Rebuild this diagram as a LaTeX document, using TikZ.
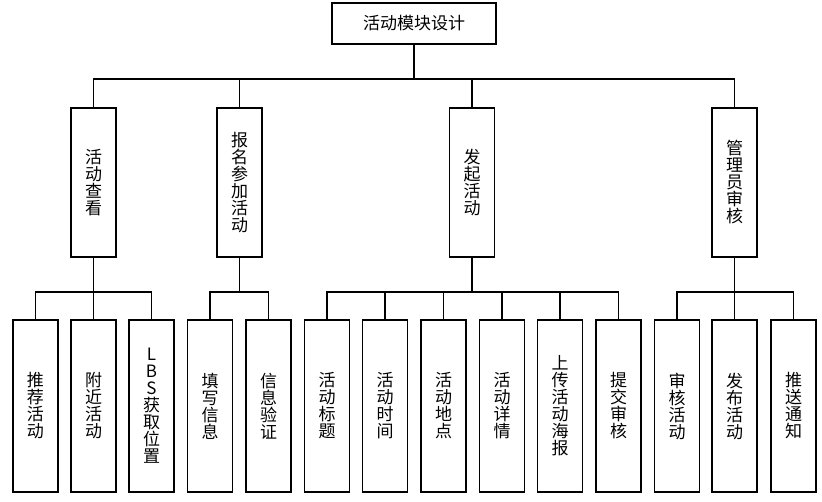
\documentclass[tikz,border=0pt]{standalone}
\usepackage{fontspec}
\setmainfont{Noto Sans CJK SC}
\usepackage{tikz}
\usetikzlibrary{positioning}
\tikzstyle{module}=[rectangle, draw=black, line width=1.4pt, inner sep=0pt,
align=center, font=\fontsize{17}{17}\selectfont]
\tikzstyle{rootbox}=[module, minimum width=164pt, minimum height=41pt]
\tikzstyle{groupbox}=[module, minimum width=45pt, minimum height=149pt]
\tikzstyle{leafbox}=[module, minimum width=45pt, minimum height=172pt]
\tikzstyle{link}=[line width=1.4pt]

\begin{document}
\begin{tikzpicture}[x=1pt, y=-1pt]
            \useasboundingbox (0,0) rectangle (822,502);
            % top
            \node (0)[rootbox] at (414,23.5) {活动模块设计};
            % modules
            \node (1)[groupbox] at (93.5,182.5) {活\\动\\查\\看};
            \node (2)[groupbox] at (239.5,182.5) {报\\名\\参\\加\\活\\动};
            \node (3)[groupbox] at (472,182.5) {发\\起\\活\\动};
            \node (4)[groupbox] at (734.5,182.5) {管\\理\\员\\审\\核};
            % functions
            \node (11)[leafbox] at (35.5,406) {推\\荐\\活\\动};
            \node (12)[leafbox] at (93.5,406) {附\\近\\活\\动};
            \node (13)[leafbox] at (151.5,406) {L\\B\\S\\获\\取\\位\\置};
            \node (21)[leafbox] at (210,406) {填\\写\\信\\息};
            \node (22)[leafbox] at (268.5,406) {信\\息\\验\\证};
            \node (31)[leafbox] at (327,406) {活\\动\\标\\题};
            \node (32)[leafbox] at (385,406) {活\\动\\时\\间};
            \node (33)[leafbox] at (443.5,406) {活\\动\\地\\点};
            \node (34)[leafbox] at (502,406) {活\\动\\详\\情};
            \node (35)[leafbox] at (560,406) {上\\传\\活\\动\\海\\报};
            \node (36)[leafbox] at (618.5,406) {提\\交\\审\\核};
            \node (41)[leafbox] at (677,406) {审\\核\\活\\动};
            \node (42)[leafbox] at (734.5,406) {发\\布\\活\\动};
            \node (43)[leafbox] at (793.5,406) {推\\送\\通\\知};
            % buses
            \coordinate (bus0) at (0,79);
            \coordinate (bus1) at (0,292);
            \draw[link] (0.south) -- (0.south |- bus0) -| (1.north);
            \draw[link] (0.south) -- (0.south |- bus0) -| (2.north);
            \draw[link] (0.south) -- (0.south |- bus0) -| (3.north);
            \draw[link] (0.south) -- (0.south |- bus0) -| (4.north);
            \draw[link] (1.south) -- (1.south |- bus1) -| (11.north);
            \draw[link] (1.south) -- (1.south |- bus1) -| (12.north);
            \draw[link] (1.south) -- (1.south |- bus1) -| (13.north);
            \draw[link] (2.south) -- (2.south |- bus1) -| (21.north);
            \draw[link] (2.south) -- (2.south |- bus1) -| (22.north);
            \draw[link] (3.south) -- (3.south |- bus1) -| (31.north);
            \draw[link] (3.south) -- (3.south |- bus1) -| (32.north);
            \draw[link] (3.south) -- (3.south |- bus1) -| (33.north);
            \draw[link] (3.south) -- (3.south |- bus1) -| (34.north);
            \draw[link] (3.south) -- (3.south |- bus1) -| (35.north);
            \draw[link] (3.south) -- (3.south |- bus1) -| (36.north);
            \draw[link] (4.south) -- (4.south |- bus1) -| (41.north);
            \draw[link] (4.south) -- (4.south |- bus1) -| (42.north);
            \draw[link] (4.south) -- (4.south |- bus1) -| (43.north);
\end{tikzpicture}
\end{document}
